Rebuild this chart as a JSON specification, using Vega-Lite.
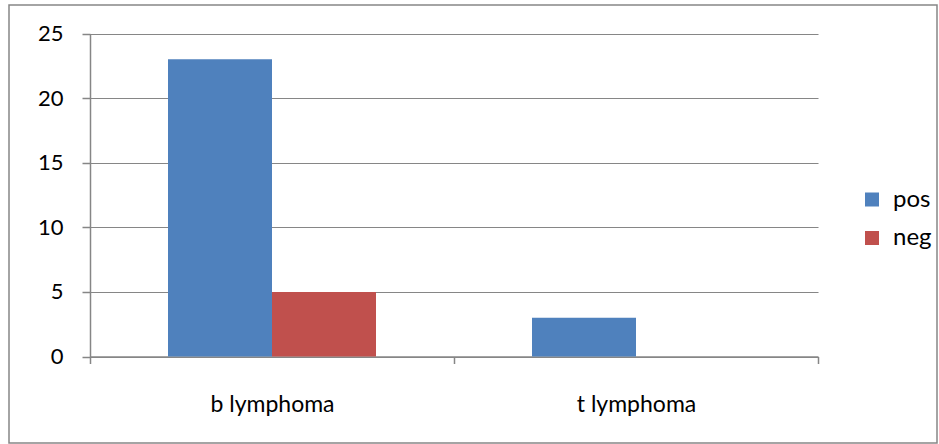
{
  "$schema": "https://vega.github.io/schema/vega-lite/v6.json",
  "width": 928,
  "height": 438,
  "padding": {"left": 9, "top": 5, "right": 2, "bottom": 1},
  "autosize": {"type": "none"},
  "background": "white",
  "data": {
    "values": [
      {"type": "b lymphoma", "result": "pos", "count": 23},
      {"type": "b lymphoma", "result": "neg", "count": 5},
      {"type": "t lymphoma", "result": "pos", "count": 3},
      {"type": "t lymphoma", "result": "neg", "count": 0}
    ]
  },
  "mark": {"type": "bar", "clip": false},
  "encoding": {
    "x": {
      "field": "type",
      "type": "nominal",
      "sort": null,
      "title": null,
      "scale": {"range": [81, 809], "paddingInner": 0, "paddingOuter": 0},
      "axis": {
        "offset": -86.5,
        "labelAngle": 0,
        "labelFont": "Lato",
        "labelFontSize": 23,
        "labelColor": "#000000",
        "labelBaseline": "alphabetic",
        "labelPadding": 48,
        "tickBand": "extent",
        "tickSize": 7,
        "tickColor": "#868686",
        "domainColor": "#868686",
        "tickWidth": 1.5,
        "domainWidth": 1.5,
        "grid": false
      }
    },
    "xOffset": {
      "field": "result",
      "type": "nominal",
      "sort": ["pos", "neg"],
      "scale": {"paddingInner": 0, "paddingOuter": 0.75}
    },
    "y": {
      "field": "count",
      "type": "quantitative",
      "title": null,
      "scale": {"domain": [0, 25], "range": [351.5, 28.5], "nice": false},
      "axis": {
        "offset": -81,
        "values": [0, 5, 10, 15, 20, 25],
        "labelFont": "Lato",
        "labelFontSize": 22,
        "labelColor": "#000000",
        "labelPadding": 19,
        "tickSize": 8,
        "tickColor": "#868686",
        "domainColor": "#868686",
        "tickWidth": 1.5,
        "domainWidth": 1.5,
        "grid": true,
        "gridColor": "#868686",
        "gridWidth": 1.2
      }
    },
    "color": {
      "field": "result",
      "type": "nominal",
      "sort": ["pos", "neg"],
      "scale": {"domain": ["pos", "neg"], "range": ["#4F81BD", "#C0504D"]},
      "legend": {
        "title": null,
        "orient": "none",
        "legendX": 851,
        "legendY": 182.5,
        "symbolType": "square",
        "symbolSize": 196,
        "symbolStrokeWidth": 0,
        "labelFont": "Lato",
        "labelFontSize": 24,
        "labelColor": "#000000",
        "labelOffset": 9,
        "rowPadding": 14.5,
        "padding": 0
      }
    }
  },
  "config": {
    "view": {"stroke": "#868686", "strokeWidth": 1.5}
  }
}
